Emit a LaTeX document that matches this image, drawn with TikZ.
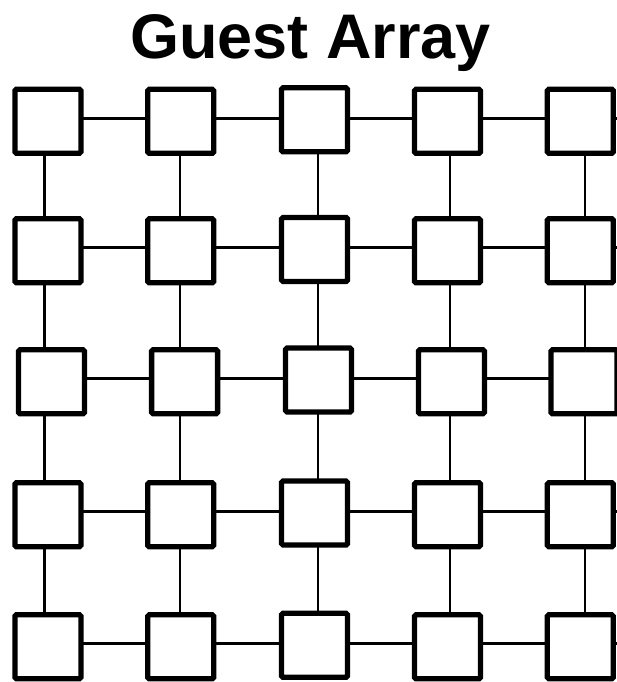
\documentclass[tikz,border=0pt]{standalone}
\usepackage{fontspec}
\setmainfont{Liberation Sans}
\usetikzlibrary{backgrounds}
\tikzset{
  cell/.style={draw, line width=5.3pt, minimum width=66pt, minimum height=64pt, inner sep=0pt, outer sep=0pt, fill=white, rounded corners=1.5pt},
  link/.style={line width=2.8pt},
}
\begin{document}
\begin{tikzpicture}[x=1pt, y=-1pt]
\useasboundingbox (0,0) rectangle (617,682);
\node[anchor=base, font=\bfseries\fontsize{63}{70}\selectfont, inner sep=0pt] (title) at (310.5,58.5) {Guest Array};
% row 1
\node[cell] (r1c1) at (47.9,121.3) {};
\node[cell] (r1c2) at (180.7,121.3) {};
\node[cell] (r1c3) at (314.5,119.8) {};
\node[cell] (r1c4) at (447.5,121.3) {};
\node[cell] (r1c5) at (580.3,121.3) {};
% row 2
\node[cell] (r2c1) at (47.9,250.8) {};
\node[cell] (r2c2) at (180.7,250.8) {};
\node[cell] (r2c3) at (314.5,249.5) {};
\node[cell] (r2c4) at (447.5,250.8) {};
\node[cell] (r2c5) at (580.3,250.8) {};
% row 3
\node[cell] (r3c1) at (51.5,381.8) {};
\node[cell] (r3c2) at (184.6,381.8) {};
\node[cell] (r3c3) at (318.5,380.0) {};
\node[cell] (r3c4) at (451.4,381.8) {};
\node[cell] (r3c5) at (584.0,381.8) {};
% row 4
\node[cell] (r4c1) at (47.9,514.7) {};
\node[cell] (r4c2) at (180.7,514.7) {};
\node[cell] (r4c3) at (314.5,513.0) {};
\node[cell] (r4c4) at (447.5,514.7) {};
\node[cell] (r4c5) at (580.3,514.7) {};
% row 5
\node[cell] (r5c1) at (47.9,646.8) {};
\node[cell] (r5c2) at (180.7,646.8) {};
\node[cell] (r5c3) at (314.5,645.3) {};
\node[cell] (r5c4) at (447.5,646.8) {};
\node[cell] (r5c5) at (580.3,646.8) {};
% connector guide coordinates
\coordinate (v1) at (44.5,0);
\coordinate (v2) at (180,0);
\coordinate (v3) at (318,0);
\coordinate (v4) at (450,0);
\coordinate (v5) at (585,0);
\coordinate (h1) at (0,118.3);
\coordinate (h2) at (0,247.3);
\coordinate (h3) at (0,378.7);
\coordinate (h4) at (0,511.7);
\coordinate (h5) at (0,643.3);
\coordinate (e1) at (617,118.3);
\coordinate (e2) at (617,247.3);
\coordinate (e3) at (617,378.7);
\coordinate (e4) at (617,511.7);
\coordinate (e5) at (617,643.3);
\begin{pgfonlayer}{background}
\foreach \r in {1,...,5}{
  \foreach \c [evaluate=\c as \n using int(\c+1)] in {1,...,4}{
    \draw[link] (r\r c\c.east |- h\r) -- (r\r c\n.west |- h\r);
  }
  \draw[link] (r\r c5.east |- h\r) -- (e\r);
}
\foreach \c in {1,...,5}{
  \foreach \r [evaluate=\r as \n using int(\r+1)] in {1,...,4}{
    \draw[link] (r\r c\c.south -| v\c) -- (r\n c\c.north -| v\c);
  }
}
\end{pgfonlayer}
\end{tikzpicture}
\end{document}
